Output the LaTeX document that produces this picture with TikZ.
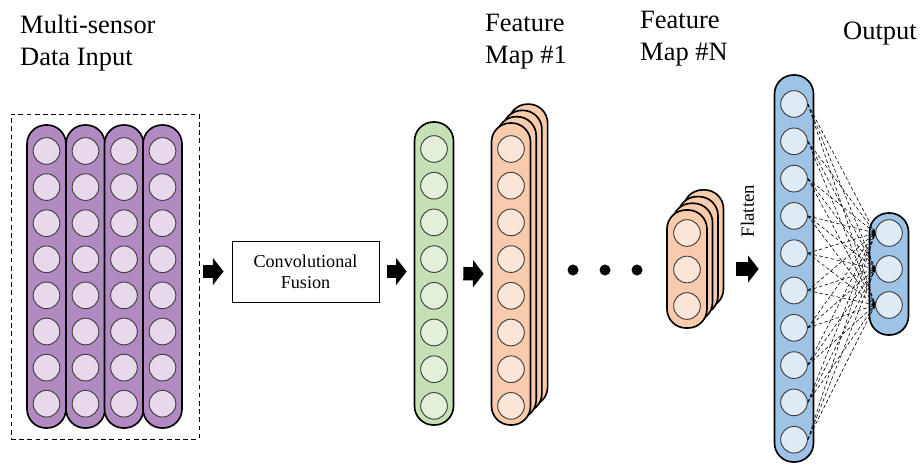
\documentclass[tikz,border=0pt]{standalone}
\usepackage{fontspec}
\setmainfont{Liberation Serif}
\usetikzlibrary{arrows.meta}

\definecolor{purplelayer}{HTML}{B18AC1}
\definecolor{purplecell}{HTML}{E8D8EC}
\definecolor{greenlayer}{HTML}{C5E0B4}
\definecolor{greencell}{HTML}{E2F0D9}
\definecolor{orangelayer}{HTML}{F8CBAD}
\definecolor{orangecell}{HTML}{FBE5D6}
\definecolor{bluelayer}{HTML}{9DC3E6}
\definecolor{bluecell}{HTML}{DEEBF7}

\begin{document}
\begin{tikzpicture}[
    x = 0.03cm, y = -0.03cm,
    layer/.style = {draw, line width = 1.4pt, rounded corners = 0.57cm,
                    minimum width = 1.17cm, inner sep = 0},
    neuron/.style = {circle, draw = black!75, line width = 0.8pt,
                     minimum size = 0.8cm, inner sep = 0},
    fat arrow/.style = {line width = 0.4cm,
                        -{Triangle[length = 0.32cm, width = 0.8cm]}},
    link/.style = {densely dashed, line width = 0.5pt, -{Stealth[length = 3pt]}},
    title/.style = {font = \fontsize{22.6}{27.3}\selectfont, align = left,
                    inner sep = 0, anchor = base west}]

\useasboundingbox (0,0) rectangle (921,465);

% input
\node[draw, line width = 0.8pt, dash pattern = on 4pt off 3pt,
      minimum width = 5.64cm, minimum height = 9.75cm] (inbox) at (105,276.5) {};
\foreach \c [count=\i] in {46.5,85.5,124,162.5} {
  \node[layer, fill = purplelayer, minimum height = 9.09cm] (sensor\i) at (\c,276.5) {};
  \foreach \r in {0,...,7}
    \node[neuron, fill = purplecell] (sensor\i-\r) at (\c,151+36.1*\r) {};
}

% fusion
\node[draw, line width = 0.8pt, minimum width = 4.41cm, minimum height = 1.83cm,
      align = center, font = \fontsize{15.5}{18}\selectfont] (conv) at (305.5,271.5)
      {Convolutional\\Fusion};

\node[layer, fill = greenlayer, minimum height = 9.09cm] (fused) at (434,273.5) {};
\foreach \r in {0,...,7}
  \node[neuron, fill = greencell] (fused-\r) at (434,149+36.7*\r) {};

% feature maps
\foreach \k in {3,2,1}
  \node[layer, fill = orangelayer, minimum height = 9.06cm] (map1-\k) at (511+5.7*\k,274-6.3*\k) {};
\node[layer, fill = orangelayer, minimum height = 9.06cm] (map1) at (511,274) {};
\foreach \r in {0,...,7}
  \node[neuron, fill = orangecell] (map1-c\r) at (511,149+36.7*\r) {};

\foreach \x [count=\i] in {573,605,637}
  \node[circle, fill, inner sep = 0, minimum size = 0.33cm] (dot\i) at (\x,270) {};

\foreach \k in {3,2,1}
  \node[layer, fill = orangelayer, minimum width = 1.2cm, minimum height = 3.54cm] (mapN-\k) at (687+5.5*\k,269-6.7*\k) {};
\node[layer, fill = orangelayer, minimum width = 1.2cm, minimum height = 3.54cm] (mapN) at (687,269) {};
\foreach \r in {0,1,2}
  \node[neuron, fill = orangecell] (mapN-c\r) at (687,233+36.5*\r) {};

% dense part
\node[layer, fill = bluelayer, minimum height = 11.61cm] (flat) at (794,268.5) {};
\foreach \r in {0,...,9}
  \node[neuron, fill = bluecell] (flat-\r) at (794,104+37.3*\r) {};

\node[layer, fill = bluelayer, minimum height = 3.66cm] (out) at (889,274) {};
\foreach \r in {0,1,2}
  \node[neuron, fill = bluecell] (out-\r) at (889,233+36*\r) {};

\foreach \i in {0,...,9}
  \foreach \j in {0,1,2}
    \draw[link] (flat-\i.east) -- (out-\j.west);

% arrows
\draw[fat arrow, shorten <= 0.12cm, shorten >= 0.24cm] (inbox.east |- conv.west) -- (conv.west);
\draw[fat arrow, shorten <= 0.24cm, shorten >= 0.21cm] (conv.east) -- (fused.west |- conv.east);
\draw[fat arrow, shorten <= 0.27cm, shorten >= 0.21cm] (fused.east) -- (map1.west);
\draw[fat arrow, shorten <= 0.84cm, shorten >= 0.45cm] (mapN.east) -- (flat.west |- mapN.east);
\node[rotate = 90, inner sep = 0, font = \fontsize{16}{19}\selectfont] (flatlabel) at (747.5,211) {Flatten};

% titles (anchored on the last line)
\node[title] (tin) at (20,65) {Multi-sensor\\Data Input};
\node[title] (tmap1) at (485,63) {Feature\\Map \#1};
\node[title] (tmapN) at (640,60) {Feature\\Map \#N};
\node[title] (tout) at (843,39) {Output};
\end{tikzpicture}
\end{document}
